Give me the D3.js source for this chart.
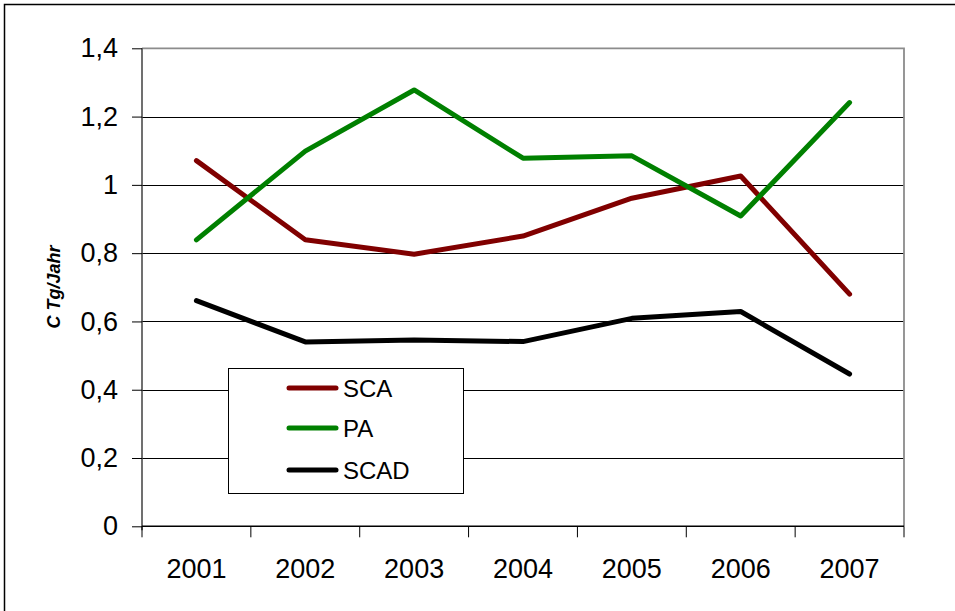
<!DOCTYPE html>
<html>
<head>
<meta charset="utf-8">
<script src="https://cdn.jsdelivr.net/npm/d3@7"></script>
<style>
  html, body { margin: 0; padding: 0; background: #fff; }
  svg { display: block; font-family: "Liberation Sans", Arial, sans-serif; }
</style>
</head>
<body>
<svg id="chart" width="955" height="611"></svg>
<script>
// ---- data ----
const years = ["2001", "2002", "2003", "2004", "2005", "2006", "2007"];
const sca  = [1.071, 0.839, 0.797, 0.850, 0.961, 1.026, 0.680];
const pa   = [0.839, 1.099, 1.278, 1.078, 1.085, 0.909, 1.241];
const scad = [0.661, 0.540, 0.546, 0.541, 0.609, 0.629, 0.446];
const seriesNames = ["SCA", "PA", "SCAD"];
const seriesColors = ["#800000", "#008000", "#000000"];
const yTicks = [0, 0.2, 0.4, 0.6, 0.8, 1, 1.2, 1.4];
const yTitle = "C Tg/Jahr";

const seriesValues = [sca, pa, scad];

const svg = d3.select("#chart");

// outer chart frame (only top and left visible in the reference)
svg.append("rect")
  .attr("x", 4.5).attr("y", 4.5)
  .attr("width", 1200).attr("height", 1200)
  .attr("fill", "none").attr("stroke", "#000").attr("stroke-width", 1.5);

const plot = { left: 142, top: 48.3, right: 904, bottom: 526.3 };

const x = d3.scaleBand().domain(years).range([plot.left, plot.right]).padding(0);
const y = d3.scaleLinear().domain([0, 1.4]).range([plot.bottom, plot.top]);

// gridlines
svg.append("g")
  .selectAll("line")
  .data(yTicks.filter(t => t > 0 && t < 1.4))
  .join("line")
  .attr("x1", plot.left).attr("x2", plot.right)
  .attr("y1", d => Math.round(y(d)) + 0.5).attr("y2", d => Math.round(y(d)) + 0.5)
  .attr("stroke", "#000").attr("stroke-width", 1);

// plot area top & right border (gray)
svg.append("path")
  .attr("d", `M${plot.left},${plot.top}H${plot.right}V${plot.bottom}`)
  .attr("fill", "none").attr("stroke", "#8c8c8c").attr("stroke-width", 1.8);

// y axis
const yAxis = d3.axisLeft(y)
  .tickValues(yTicks)
  .tickSize(10)
  .tickPadding(14)
  .tickFormat(d => d3.format("~g")(d).replace(".", ","));
const gy = svg.append("g")
  .attr("transform", `translate(${plot.left},0)`)
  .call(yAxis);
gy.select(".domain").attr("stroke", "#404040").attr("stroke-width", 1.5)
  .attr("d", `M0,${plot.top}V${plot.bottom + 4}`);
gy.selectAll(".tick line").attr("stroke", "#000");
gy.selectAll(".tick text")
  .attr("font-size", 27).attr("fill", "#000")
  .attr("font-family", "Liberation Sans, Arial, sans-serif");

// x axis with boundary ticks
const xAxisG = svg.append("g");
xAxisG.append("line")
  .attr("x1", plot.left).attr("x2", plot.right)
  .attr("y1", plot.bottom).attr("y2", plot.bottom)
  .attr("stroke", "#000").attr("stroke-width", 1.5);
const boundaries = years.map(d => x(d)).concat([x(years[years.length - 1]) + x.bandwidth()]);
xAxisG.selectAll("line.tk")
  .data(boundaries)
  .join("line").attr("class", "tk")
  .attr("x1", d => d).attr("x2", d => d)
  .attr("y1", plot.bottom).attr("y2", plot.bottom + 11)
  .attr("stroke", "#000").attr("stroke-width", 1);
xAxisG.selectAll("text")
  .data(years)
  .join("text")
  .attr("x", d => x(d) + x.bandwidth() / 2)
  .attr("y", 578)
  .attr("text-anchor", "middle")
  .attr("font-size", 27)
  .text(d => d);

// y title
svg.append("text")
  .attr("transform", `translate(59.5,287) rotate(-90)`)
  .attr("text-anchor", "middle")
  .attr("font-size", 18)
  .attr("font-weight", "bold")
  .attr("font-style", "italic")
  .text(yTitle);

// lines
const line = d3.line()
  .x((d, i) => x(years[i]) + x.bandwidth() / 2)
  .y(d => y(d));

svg.append("g").selectAll("path")
  .data(seriesValues)
  .join("path")
  .attr("d", d => line(d))
  .attr("fill", "none")
  .attr("stroke", (d, i) => seriesColors[i])
  .attr("stroke-width", 5)
  .attr("stroke-linejoin", "round")
  .attr("stroke-linecap", "round");

// legend
const lg = svg.append("g");
lg.append("rect")
  .attr("x", 228.5).attr("y", 368.5)
  .attr("width", 235).attr("height", 125)
  .attr("fill", "#fff").attr("stroke", "#000").attr("stroke-width", 1);
const ly = [388, 428, 470];
seriesNames.forEach((name, i) => {
  lg.append("line")
    .attr("x1", 289).attr("x2", 336)
    .attr("y1", ly[i]).attr("y2", ly[i])
    .attr("stroke", seriesColors[i]).attr("stroke-width", 5)
    .attr("stroke-linecap", "round");
  lg.append("text")
    .attr("x", 343).attr("y", ly[i] + 8.5)
    .attr("font-size", 24)
    .text(name);
});
</script>
</body>
</html>
